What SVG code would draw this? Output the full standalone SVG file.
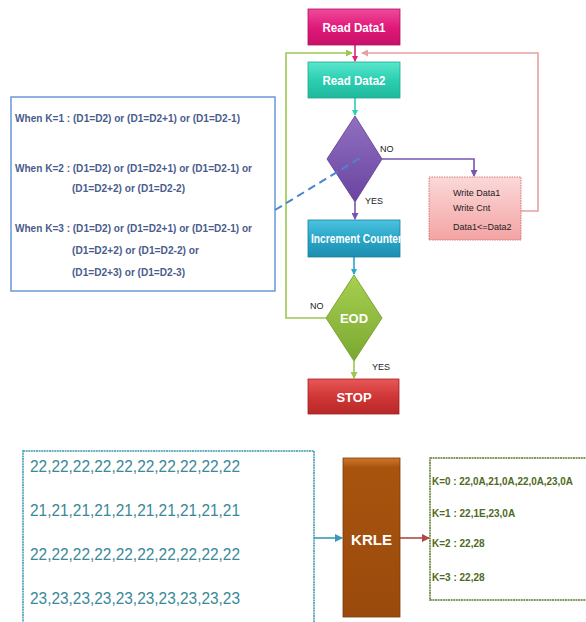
<svg xmlns="http://www.w3.org/2000/svg" width="586" height="622" viewBox="0 0 586 622">
<defs>
<style>
.lbl{font-family:"Liberation Sans",Arial,sans-serif;font-weight:bold;fill:#fff;text-anchor:middle}
.small{font-family:"Liberation Sans",Arial,sans-serif;font-size:9px;fill:#222}
.cond{font-family:"Liberation Sans",Arial,sans-serif;font-size:10px;fill:#4a5c8c;font-weight:bold}
.seq{font-family:"Liberation Sans",Arial,sans-serif;font-size:17px;fill:#3a8898}
.out{font-family:"Liberation Sans",Arial,sans-serif;font-size:10px;fill:#4e6a1e;font-weight:bold}
.c{fill:none;stroke-width:1.6}
</style>
<linearGradient id="gPink" x1="0" y1="0" x2="0" y2="1"><stop offset="0" stop-color="#f04a9a"/><stop offset="0.5" stop-color="#e01a7a"/><stop offset="1" stop-color="#c81068"/></linearGradient>
<linearGradient id="gTeal" x1="0" y1="0" x2="0" y2="1"><stop offset="0" stop-color="#5ae6cc"/><stop offset="0.5" stop-color="#2ccfb2"/><stop offset="1" stop-color="#20b89c"/></linearGradient>
<linearGradient id="gPurp" x1="0" y1="0" x2="0" y2="1"><stop offset="0" stop-color="#9070c0"/><stop offset="1" stop-color="#6a44a0"/></linearGradient>
<linearGradient id="gWrite" x1="0" y1="0" x2="0" y2="1"><stop offset="0" stop-color="#fbd8d8"/><stop offset="1" stop-color="#f4a4a4"/></linearGradient>
<linearGradient id="gCyan" x1="0" y1="0" x2="0" y2="1"><stop offset="0" stop-color="#4cc2de"/><stop offset="0.5" stop-color="#2aa6c8"/><stop offset="1" stop-color="#1e8eb0"/></linearGradient>
<linearGradient id="gGreen" x1="0" y1="0" x2="0" y2="1"><stop offset="0" stop-color="#a8d050"/><stop offset="1" stop-color="#7aa830"/></linearGradient>
<linearGradient id="gRed" x1="0" y1="0" x2="0" y2="1"><stop offset="0" stop-color="#e85858"/><stop offset="0.5" stop-color="#d03636"/><stop offset="1" stop-color="#b82828"/></linearGradient>
<linearGradient id="gBrown" x1="0" y1="0" x2="0" y2="1"><stop offset="0" stop-color="#d0762a"/><stop offset="0.06" stop-color="#a8540f"/><stop offset="1" stop-color="#9a4a0c"/></linearGradient>
<marker id="aMag" markerWidth="6" markerHeight="6" refX="5" refY="3" orient="auto" markerUnits="userSpaceOnUse"><path d="M0,0 L6,3 L0,6 z" fill="#e0207a"/></marker>
<marker id="aTeal" markerWidth="6" markerHeight="6" refX="5" refY="3" orient="auto" markerUnits="userSpaceOnUse"><path d="M0,0 L6,3 L0,6 z" fill="#2ccfb2"/></marker>
<marker id="aPurp" markerWidth="7" markerHeight="7" refX="6" refY="3.5" orient="auto" markerUnits="userSpaceOnUse"><path d="M0,0 L7,3.5 L0,7 z" fill="#7a54b0"/></marker>
<marker id="aPinkL" markerWidth="7" markerHeight="7" refX="6" refY="3.5" orient="auto" markerUnits="userSpaceOnUse"><path d="M0,0 L7,3.5 L0,7 z" fill="#e8a0a0"/></marker>
<marker id="aGreen" markerWidth="7" markerHeight="7" refX="6" refY="3.5" orient="auto" markerUnits="userSpaceOnUse"><path d="M0,0 L7,3.5 L0,7 z" fill="#9cc850"/></marker>
<marker id="aCyan" markerWidth="6" markerHeight="6" refX="5" refY="3" orient="auto" markerUnits="userSpaceOnUse"><path d="M0,0 L6,3 L0,6 z" fill="#2aa6c8"/></marker>
<marker id="aBlue" markerWidth="8" markerHeight="8" refX="7" refY="4" orient="auto" markerUnits="userSpaceOnUse"><path d="M0,0 L8,4 L0,8 z" fill="#3a98b8"/></marker>
<marker id="aRed" markerWidth="8" markerHeight="8" refX="7" refY="4" orient="auto" markerUnits="userSpaceOnUse"><path d="M0,0 L8,4 L0,8 z" fill="#b04848"/></marker>
<clipPath id="clipInc"><rect x="308" y="220" width="93" height="37"/></clipPath>
</defs>

<g id="connectors">
<line class="c" x1="355" y1="45" x2="355" y2="61" stroke="#e0207a" marker-end="url(#aMag)"/>
<line class="c" x1="355" y1="98" x2="355" y2="115" stroke="#2ccfb2" marker-end="url(#aTeal)"/>
<polyline class="c" points="382,159 474,159 474,176" stroke="#7a54b0" marker-end="url(#aPurp)"/>
<polyline class="c" points="521,211 538,211 538,53 362,53" stroke="#e8a0a0" marker-end="url(#aPinkL)"/>
<line class="c" x1="355" y1="202" x2="355" y2="219" stroke="#7a54b0" marker-end="url(#aPurp)"/>
<line class="c" x1="354" y1="257" x2="354" y2="274" stroke="#2aa6c8" marker-end="url(#aCyan)"/>
<polyline class="c" points="326,318 286,318 286,53 352,53" stroke="#9cc850" marker-end="url(#aGreen)"/>
<line class="c" x1="354" y1="361" x2="354" y2="378" stroke="#9cc850" marker-end="url(#aGreen)"/>
<line class="c" x1="314" y1="538" x2="342" y2="538" stroke="#3a98b8" stroke-width="2" marker-end="url(#aBlue)"/>
<line class="c" x1="400" y1="538" x2="429" y2="538" stroke="#b04848" stroke-width="2" marker-end="url(#aRed)"/>
<text x="380" y="152" class="small">NO</text>
<text x="365" y="204" class="small">YES</text>
<text x="310" y="309" class="small">NO</text>
<text x="372" y="370" class="small">YES</text>
</g>

<g id="readData1">
<rect x="308" y="9" width="92" height="36" fill="url(#gPink)" stroke="#b01060" stroke-width="0.8"/>
<text x="354" y="32" class="lbl" font-size="13" textLength="63" lengthAdjust="spacingAndGlyphs">Read Data1</text>
</g>

<g id="readData2">
<rect x="308" y="62" width="92" height="36" fill="url(#gTeal)" stroke="#1ea88e" stroke-width="0.8"/>
<text x="354" y="85" class="lbl" font-size="13" textLength="63" lengthAdjust="spacingAndGlyphs">Read Data2</text>
</g>

<g id="compare">
<polygon points="355,116 382,159 355,202 327,159" fill="url(#gPurp)" stroke="#5a3a90" stroke-width="0.8"/>
</g>

<g id="write">
<rect x="429" y="177" width="92" height="63" fill="url(#gWrite)" stroke="#d06060" stroke-width="0.8" stroke-dasharray="1.5,1"/>
<text x="453" y="196" class="small" font-size="9.5">Write Data1</text>
<text x="453" y="211" class="small" font-size="9.5">Write Cnt</text>
<text x="453" y="230" class="small" font-size="9.5">Data1&lt;=Data2</text>
</g>

<g id="increment">
<rect x="308" y="220" width="92" height="37" fill="url(#gCyan)" stroke="#1a7e9e" stroke-width="0.8"/>
<g clip-path="url(#clipInc)">
<text x="311" y="243" class="lbl" font-size="12.5" style="text-anchor:start" textLength="91" lengthAdjust="spacingAndGlyphs">Increment Counter</text>
</g>
</g>

<g id="eod">
<polygon points="354,275 382,318 354,361 326,318" fill="url(#gGreen)" stroke="#6a9828" stroke-width="0.8"/>
<text x="354" y="323" class="lbl" font-size="13">EOD</text>
</g>

<g id="stop">
<rect x="308" y="379" width="91" height="35" fill="url(#gRed)" stroke="#a02020" stroke-width="0.8"/>
<text x="354" y="402" class="lbl" font-size="13">STOP</text>
</g>

<g id="conditions">
<rect x="11" y="97" width="264" height="194" fill="#fff" stroke="#6a98d8" stroke-width="1.5"/>
<text x="15" y="122" class="cond" textLength="225" lengthAdjust="spacingAndGlyphs">When K=1 : (D1=D2) or (D1=D2+1) or (D1=D2-1)</text>
<text x="15" y="172" class="cond" textLength="237" lengthAdjust="spacingAndGlyphs">When K=2 : (D1=D2) or (D1=D2+1) or (D1=D2-1) or</text>
<text x="72" y="192" class="cond" textLength="113" lengthAdjust="spacingAndGlyphs">(D1=D2+2) or (D1=D2-2)</text>
<text x="15" y="232" class="cond" textLength="237" lengthAdjust="spacingAndGlyphs">When K=3 : (D1=D2) or (D1=D2+1) or (D1=D2-1) or</text>
<text x="72" y="254" class="cond" textLength="127" lengthAdjust="spacingAndGlyphs">(D1=D2+2) or (D1=D2-2) or</text>
<text x="72" y="276" class="cond" textLength="113" lengthAdjust="spacingAndGlyphs">(D1=D2+3) or (D1=D2-3)</text>
</g>

<g id="callout">
<line x1="275" y1="210" x2="360" y2="158" stroke="#4a86cc" stroke-width="2" stroke-dasharray="8,5"/>
</g>

<g id="input">
<rect x="23" y="451" width="291" height="175" fill="#fff" stroke="#3a98b0" stroke-width="1.5" stroke-dasharray="2,0.6"/>
<text x="30" y="472" class="seq" textLength="210" lengthAdjust="spacingAndGlyphs">22,22,22,22,22,22,22,22,22,22</text>
<text x="30" y="516" class="seq" textLength="210" lengthAdjust="spacingAndGlyphs">21,21,21,21,21,21,21,21,21,21</text>
<text x="30" y="560" class="seq" textLength="210" lengthAdjust="spacingAndGlyphs">22,22,22,22,22,22,22,22,22,22</text>
<text x="30" y="604" class="seq" textLength="210" lengthAdjust="spacingAndGlyphs">23,23,23,23,23,23,23,23,23,23</text>
</g>

<g id="krle">
<rect x="343" y="458" width="57" height="159" fill="url(#gBrown)" stroke="#7a3a08" stroke-width="0.8"/>
<text x="371.5" y="545" class="lbl" font-size="15">KRLE</text>
</g>

<g id="output">
<rect x="430" y="458" width="160" height="142" fill="#fff" stroke="#5a7a2a" stroke-width="1.5" stroke-dasharray="2,0.6"/>
<text x="432" y="485" class="out" textLength="141" lengthAdjust="spacingAndGlyphs">K=0 : 22,0A,21,0A,22,0A,23,0A</text>
<text x="432" y="517" class="out">K=1 : 22,1E,23,0A</text>
<text x="432" y="547" class="out">K=2 : 22,28</text>
<text x="432" y="581" class="out">K=3 : 22,28</text>
</g>
</svg>
